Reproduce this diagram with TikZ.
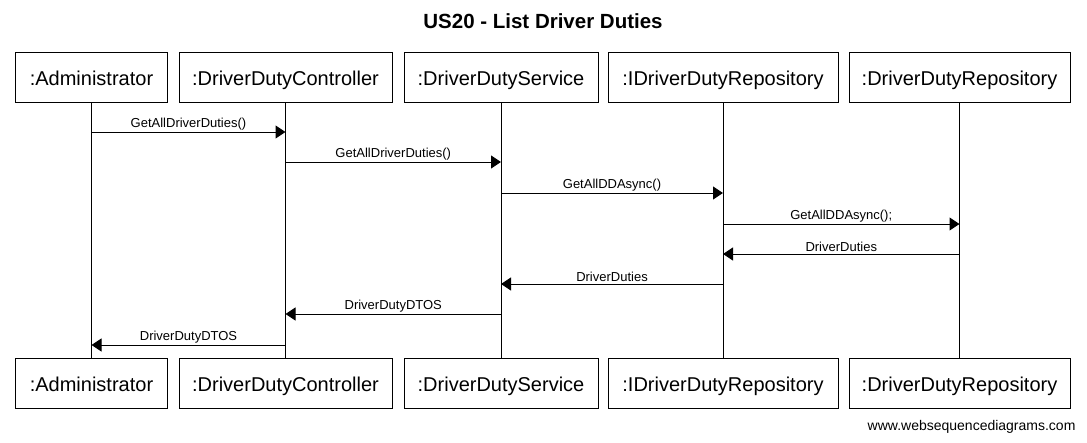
\documentclass[tikz,border=0pt]{standalone}
\usepackage{fontspec}
\setmainfont{Liberation Sans}
\usetikzlibrary{arrows.meta}
\begin{document}
\begin{tikzpicture}[x=1pt,y=-1pt,
  obj/.style={draw,line width=1pt,minimum height=50pt,inner sep=0pt,text height=16pt,text depth=0pt,font=\fontsize{20}{24}\selectfont},
  life/.style={line width=1pt},
  msg/.style={line width=1pt,-{Triangle[length=10pt,width=13pt]}},
  lbl/.style={above,inner sep=1.5pt,font=\fontsize{13}{15}\selectfont}]
\useasboundingbox (0,0) rectangle (1087,442);
\node[font=\bfseries\fontsize{20.5}{24}\selectfont] (title) at (543,21) {US20 - List Driver Duties};
% top objects
\node[obj,minimum width=152pt] (t1) at (91.5,77.5) {:Administrator};
\node[obj,minimum width=213pt] (t2) at (285.5,77.5) {:DriverDutyController};
\node[obj,minimum width=194pt] (t3) at (501,77.5) {:DriverDutyService};
\node[obj,minimum width=230pt] (t4) at (723,77.5) {:IDriverDutyRepository};
\node[obj,minimum width=221pt] (t5) at (959.5,77.5) {:DriverDutyRepository};
% bottom objects
\node[obj,minimum width=152pt] (b1) at (91.5,383) {:Administrator};
\node[obj,minimum width=213pt] (b2) at (285.5,383) {:DriverDutyController};
\node[obj,minimum width=194pt] (b3) at (501,383) {:DriverDutyService};
\node[obj,minimum width=230pt] (b4) at (723,383) {:IDriverDutyRepository};
\node[obj,minimum width=221pt] (b5) at (959.5,383) {:DriverDutyRepository};
% lifelines
\foreach \i in {1,...,5} {\draw[life] (t\i.south) -- (b\i.north);}
% messages
\draw[msg] (t1.south |- 0,132) -- node[lbl]{GetAllDriverDuties()} (t2.south |- 0,132);
\draw[msg] (t2.south |- 0,162) -- node[lbl]{GetAllDriverDuties()} (t3.south |- 0,162);
\draw[msg] (t3.south |- 0,193) -- node[lbl]{GetAllDDAsync()} (t4.south |- 0,193);
\draw[msg] (t4.south |- 0,224) -- node[lbl]{GetAllDDAsync();} (t5.south |- 0,224);
\draw[msg] (t5.south |- 0,254) -- node[lbl]{DriverDuties} (t4.south |- 0,254);
\draw[msg] (t4.south |- 0,284) -- node[lbl]{DriverDuties} (t3.south |- 0,284);
\draw[msg] (t3.south |- 0,314) -- node[lbl]{DriverDutyDTOS} (t2.south |- 0,314);
\draw[msg] (t2.south |- 0,345) -- node[lbl]{DriverDutyDTOS} (t1.south |- 0,345);
% footer
\node[anchor=east,font=\fontsize{14}{16}\selectfont] (foot) at (1079,427) {www.websequencediagrams.com};
\end{tikzpicture}
\end{document}
